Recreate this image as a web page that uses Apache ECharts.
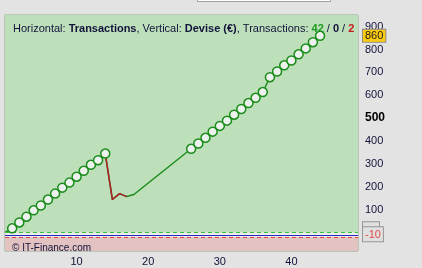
<!DOCTYPE html>
<html>
<head>
<meta charset="utf-8">
<script src="https://cdn.jsdelivr.net/npm/echarts@6/dist/echarts.min.js"></script>
<style>
html,body{margin:0;padding:0;background:#e3e3e3;}
#main{width:422px;height:268px;}
</style>
</head>
<body>
<div id="main"></div>
<script>
// equity curve: transaction number -> equity (€)
var trades = [0, 1, 2, 3, 4, 5, 6, 7, 8, 9, 10, 11, 12, 13, 14, 15, 16, 17, 18,
	26, 27, 28, 29, 30, 31, 32, 33, 34, 35, 36, 37, 38, 39, 40, 41, 42, 43, 44];
var equity = [0, 18, 44, 69, 97, 118, 144, 170, 196, 218, 244, 270, 296, 316, 345, 144, 170, 157, 166,
	366, 389, 414, 441, 466, 489, 515, 540, 566, 589, 614, 679, 704, 731, 752, 779, 805, 832, 860];
var yTicks = [100, 200, 300, 400, 500, 600, 700, 800, 900];
var xTicks = [10, 20, 30, 40];
var levelZero = 0, levelNow = -10, levelStop = -20;
var stats = {win: 42, flat: 0, loss: 2};

var font = 'Liberation Sans';
var ink = '#12123a';

var curve = trades.map(function (t, i) { return [t, equity[i]]; });
// losing part of the curve drawn in red
var lossPart = curve.filter(function (p) { return p[0] >= 14 && p[0] <= 17; });
// circles only where the original shows them
var dots = curve.filter(function (p) { return p[0] >= 1 && (p[0] <= 14 || p[0] >= 26); });

var chart = echarts.init(document.getElementById('main'));
chart.setOption({
	animation: false,
	backgroundColor: '#e3e3e3',
	title: [{
		left: 8,
		top: 18,
		text: 'Horizontal: {b|Transactions}, Vertical: {b|Devise (€)}, Transactions: {g|' + stats.win + '} / {k|' + stats.flat + '} / {r|' + stats.loss + '}',
		textStyle: {
			fontFamily: font, fontSize: 11, fontWeight: 'normal', color: ink,
			rich: {
				b: {fontFamily: font, fontSize: 11, fontWeight: 'bold', color: ink},
				g: {fontFamily: font, fontSize: 11, fontWeight: 'bold', color: '#1c9a1c'},
				k: {fontFamily: font, fontSize: 11, fontWeight: 'bold', color: ink},
				r: {fontFamily: font, fontSize: 11, fontWeight: 'bold', color: '#c41a1a'}
			}
		}
	}, {
		left: 7,
		top: 238,
		text: '© IT-Finance.com',
		textStyle: {fontFamily: font, fontSize: 10, fontWeight: 'normal', color: ink}
	}],
	graphic: [{
		type: 'rect',
		shape: {x: 197.5, y: -5, width: 133, height: 6.5},
		style: {fill: '#ffffff', stroke: '#a0a0a0', lineWidth: 1}
	}],
	grid: {
		left: 5, right: 64, top: 15, bottom: 17,
		show: true,
		backgroundColor: 'transparent',
		borderColor: '#8ea68c',
		borderWidth: 1
	},
	xAxis: {
		type: 'value',
		min: 0,
		max: 49.3,
		axisLine: {show: false},
		axisTick: {show: true, length: 4, customValues: xTicks, lineStyle: {color: '#808080'}},
		axisLabel: {customValues: xTicks, margin: 5, fontFamily: font, fontSize: 11, color: ink},
		splitLine: {show: true, lineStyle: {color: '#9fc59d', width: 1}}
	},
	yAxis: {
		type: 'value',
		position: 'right',
		min: -81,
		max: 951,
		axisLine: {show: false},
		axisTick: {show: true, length: 5, customValues: yTicks, lineStyle: {color: '#808080'}},
		axisLabel: {
			customValues: yTicks,
			margin: 7,
			fontFamily: font, fontSize: 11, color: ink,
			formatter: function (v) { return v === 500 ? '{h|' + v + '}' : String(v); },
			rich: {h: {fontFamily: font, fontSize: 12, fontWeight: 'bold', color: '#000000'}}
		},
		splitLine: {show: true, lineStyle: {color: '#9fc59d', width: 1}}
	},
	series: [{
		// zone backgrounds, kept under the grid lines
		type: 'line',
		z: -1,
		silent: true,
		data: curve,
		showSymbol: false,
		lineStyle: {opacity: 0},
		markArea: {
			silent: true,
			data: [
				[{yAxis: levelZero, itemStyle: {color: '#bde0bb'}}, {yAxis: 951}],
				[{yAxis: levelStop, itemStyle: {color: '#e9eee8'}}, {yAxis: levelZero}],
				[{yAxis: -81, itemStyle: {color: '#e2c3c2'}}, {yAxis: levelStop}]
			]
		}
	}, {
		type: 'line',
		z: 3,
		data: curve,
		showSymbol: false,
		lineStyle: {color: '#1f8c1f', width: 1.5},
		markLine: {
			silent: true,
			symbol: 'none',
			data: [{
				yAxis: levelZero,
				lineStyle: {color: '#3fbf3f', type: [4, 3], width: 1},
				label: {show: false}
			}, {
				yAxis: levelNow,
				lineStyle: {color: '#2626c0', type: 'solid', width: 1},
				label: {
					show: true,
					position: 'end',
					distance: 5,
					padding: [0, 0, 6, 0],
					formatter: function (p) { return '{t|}\n{v|' + p.value + '}'; },
					rich: {
						t: {width: 16, height: 5, backgroundColor: '#e0e0e0', borderColor: '#959595', borderWidth: 1},
						v: {fontFamily: font, fontSize: 11, color: '#e24a4a', backgroundColor: '#e0e0e0',
							borderColor: '#959595', borderWidth: 1, padding: [2, 2, 1, 2]}
					}
				}
			}, {
				yAxis: levelStop,
				lineStyle: {color: '#e04646', type: [4, 3], width: 1},
				label: {show: false}
			}, {
				yAxis: equity[equity.length - 1],
				lineStyle: {color: 'rgba(0,0,0,0)', width: 1},
				label: {
					show: true,
					position: 'end',
					distance: 5,
					formatter: '{c}',
					fontFamily: font, fontSize: 11, color: '#1a1a1a',
					backgroundColor: '#fccb10',
					borderColor: '#8c8c8c', borderWidth: 1,
					padding: [1, 2, 0, 2]
				}
			}]
		}
	}, {
		type: 'line',
		z: 4,
		data: lossPart,
		showSymbol: false,
		lineStyle: {color: '#b01c28', width: 1.5}
	}, {
		type: 'scatter',
		z: 10,
		data: dots,
		symbol: 'circle',
		symbolSize: 9,
		itemStyle: {color: '#eef2ee', borderColor: '#1a8c1a', borderWidth: 1.5, opacity: 1}
	}]
});
</script>
</body>
</html>
